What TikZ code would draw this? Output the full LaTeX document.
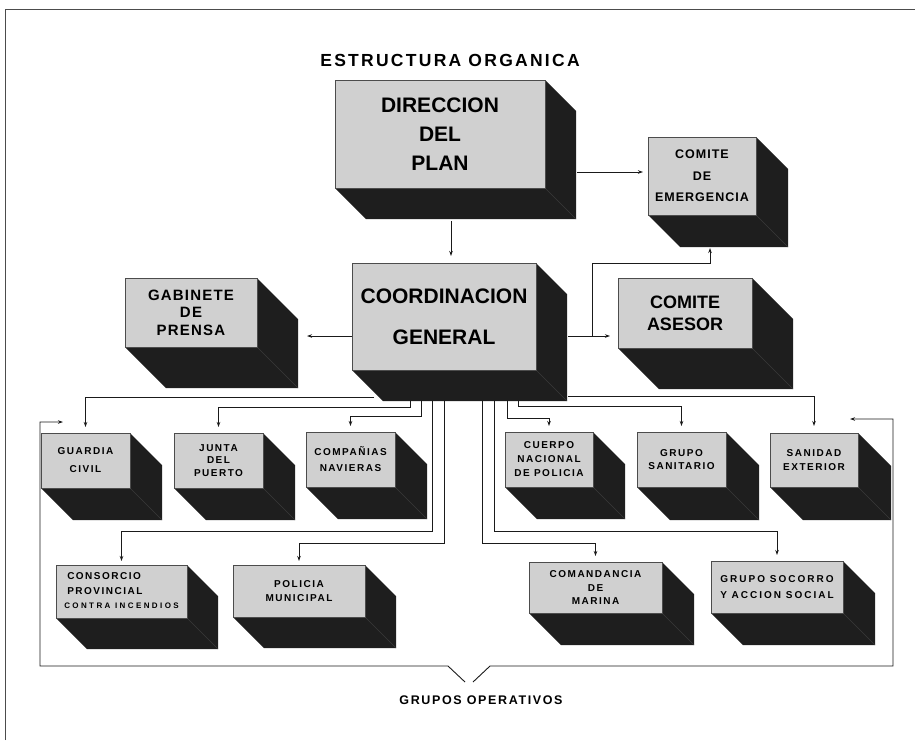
\documentclass[tikz,border=0pt]{standalone}
\usepackage{fontspec}
\setmainfont{Liberation Sans}
\newfontfamily\fntP{Liberation Sans}
\newfontfamily\fntS{Liberation Sans}[LetterSpace=15]
\newfontfamily\fntW{Liberation Sans}[LetterSpace=30]
\newfontfamily\fntM{Liberation Sans}[LetterSpace=8]
\newfontfamily\fntT{Liberation Sans}[LetterSpace=13]
\newfontfamily\fntR{Liberation Sans}[LetterSpace=20]
\usetikzlibrary{arrows.meta,calc}
\definecolor{facegray}{HTML}{D0D0D0}
\definecolor{shadowc}{HTML}{1E1E1E}
\definecolor{linec}{HTML}{1A1A1A}
\tikzset{
  front/.style={fill=facegray, draw=gray!60!black, line width=0.5pt, inner sep=0pt, outer sep=0pt, align=center, text=black},
  darkside/.style={fill=shadowc},
  edgeline/.style={draw=gray!45!black, line width=0.5pt},
  conn/.style={draw=linec, line width=0.9pt, -{Stealth[length=5pt,width=3.5pt]}},
  frameline/.style={draw=gray!60!black, line width=1pt},
  lbl/.style={inner sep=0pt, text=black},
}
\newcommand\cubebox[8]{%
  \fill[darkside] (#4,#3) -- (#4+#6,#3+#6) -- (#4+#6,#5+#6) -- (#2+#6,#5+#6) -- (#2,#5) -- (#4,#5) -- cycle;
  \draw[edgeline] (#4,#5) -- (#4+#6,#5+#6);
  \pgfmathsetmacro\cbw{#4-#2}\pgfmathsetmacro\cbh{#5-#3}
  \node[front, minimum width=\cbw pt, minimum height=\cbh pt, anchor=north west, font={#7}] (#1) at (#2,#3) {#8};
}
\begin{document}
\begin{tikzpicture}[x=1pt,y=-1pt]
\useasboundingbox (0,0) rectangle (915,740);
% frame
\draw[frameline] (5,740) -- (5,9) -- (915,9);
% title
\node[lbl, font={\fntT\bfseries\fontsize{17.5}{20}\selectfont}] (title) at (450,60) {ESTRUCTURA ORGANICA};
% boxes
\cubebox{dir}{335}{80}{545}{188}{31}{\fntP\bfseries\fontsize{21}{29}\selectfont}{DIRECCION\\DEL\\PLAN}
\cubebox{emerg}{648}{137}{756}{215}{32}{\fntM\bfseries\fontsize{12.5}{21.5}\selectfont}{COMITE\\DE\\EMERGENCIA}
\cubebox{coord}{352}{263}{536}{370}{31}{\fntP\bfseries\fontsize{21}{41}\selectfont}{COORDINACION\\GENERAL}
\cubebox{gab}{125}{278}{257}{347}{41}{\fntM\bfseries\fontsize{15}{17.5}\selectfont}{GABINETE\\DE\\PRENSA}
\cubebox{ases}{618}{278}{752}{348}{41}{\fntP\bfseries\fontsize{18}{22}\selectfont}{COMITE\\ASESOR}
\cubebox{guardia}{41}{433}{130}{488}{32}{\fntS\bfseries\fontsize{10}{18}\selectfont}{GUARDIA\\CIVIL}
\cubebox{junta}{174}{433}{263}{488}{32}{\fntS\bfseries\fontsize{10}{12.5}\selectfont}{JUNTA\\DEL\\PUERTO}
\cubebox{comp}{306}{432}{395}{487}{32}{\fntS\bfseries\fontsize{10}{16}\selectfont}{COMPAÑIAS\\NAVIERAS}
\cubebox{cuerpo}{505}{432}{593}{487}{32}{\fntS\bfseries\fontsize{10}{14}\selectfont}{CUERPO\\NACIONAL\\DE POLICIA}
\cubebox{sanit}{637}{432}{726}{487}{33}{\fntS\bfseries\fontsize{10}{13.5}\selectfont}{GRUPO\\SANITARIO}
\cubebox{sanid}{770}{433}{858}{487}{33}{\fntS\bfseries\fontsize{10}{14}\selectfont}{SANIDAD\\EXTERIOR}
\cubebox{cons}{56}{565}{187}{618}{31}{\fntS\bfseries\fontsize{10}{14.5}\selectfont}{\begin{tabular}{@{}l@{}}\hspace*{3pt}CONSORCIO\\\hspace*{3pt}PROVINCIAL\\{\fntW\fontsize{8}{10}\selectfont CONTRA INCENDIOS}\end{tabular}}
\cubebox{pol}{233}{565}{365}{617}{31}{\fntS\bfseries\fontsize{10}{14}\selectfont}{POLICIA\\MUNICIPAL}
\cubebox{coman}{529}{562}{662}{613}{32}{\fntS\bfseries\fontsize{10}{13.5}\selectfont}{COMANDANCIA\\DE\\MARINA}
\cubebox{soc}{711}{561}{843}{613}{32}{\fntR\bfseries\fontsize{10}{16}\selectfont}{GRUPO SOCORRO\\Y ACCION SOCIAL}
% connector anchor points
\coordinate (dirB) at (451,221);
\coordinate (dirR) at (577,172);
\coordinate (gabR) at (299,336);
\coordinate (cgR) at (568,336);
\coordinate (cgE) at (592,336);
\coordinate (emK) at (710,263);
\coordinate (emB) at (710,248);
\coordinate (cgL) at (374,397);
\coordinate (cgb1) at (410,400);
\coordinate (cgb2) at (421,400);
\coordinate (cgb3) at (432,400);
\coordinate (cgb4) at (444,400);
\coordinate (cgb5) at (482,400);
\coordinate (cgb6) at (494,400);
\coordinate (cgb7) at (507,400);
\coordinate (cgb8) at (518,400);
\coordinate (cgRb) at (568,396);
% upper connectors
\draw[conn, shorten >=7pt] (dirB) -- (dirB |- coord.north);
\draw[conn, shorten >=5pt] (dirR) -- (dirR -| emerg.west);
\draw[conn, shorten >=8pt] (coord.west |- gabR) -- (gabR);
\draw[conn, shorten >=8pt] (cgR) -- (cgR -| ases.west);
\draw[conn] (cgE) |- (emK) -- (emB);
% lower connectors
\draw[conn, shorten >=6pt] (cgL) -| (guardia.north);
\draw[conn, shorten >=6pt] (cgb1) -- ++(0,7) -| (junta.north);
\draw[conn, shorten >=6pt] (cgb2) -- ++(0,16) -| (comp.north);
\draw[conn, shorten >=4pt] (cgb3) -- ++(0,131) -| (cons.north);
\draw[conn, shorten >=4pt] (cgb4) -- ++(0,143) -| (pol.north);
\draw[conn, shorten >=6pt] (cgb5) -- ++(0,143) -| (coman.north);
\draw[conn, shorten >=6pt] (cgb6) -- ++(0,131) -| (soc.north);
\draw[conn, shorten >=6pt] (cgb7) -- ++(0,18) -| (cuerpo.north);
\draw[conn, shorten >=6pt] (cgb8) -- ++(0,6) -| (sanit.north);
\draw[conn, shorten >=7pt] (cgRb) -| (sanid.north);
% grupos operativos bracket
\coordinate (brL) at (465,682);
\coordinate (brR) at (473,682);
\coordinate (bkL1) at (448,666);
\coordinate (bkL2) at (40,666);
\coordinate (bkL3) at (40,422);
\coordinate (bkLt) at (63,422);
\coordinate (bkR1) at (490,666);
\coordinate (bkR2) at (893,666);
\coordinate (bkR3) at (893,419);
\coordinate (bkRt) at (850,419);
\draw[conn] (brL) -- (bkL1) -- (bkL2) -- (bkL3) -- (bkLt);
\draw[conn] (brR) -- (bkR1) -- (bkR2) -- (bkR3) -- (bkRt);
\node[lbl, font={\fntT\bfseries\fontsize{12.5}{15}\selectfont}] (gops) at (481,700) {GRUPOS OPERATIVOS};
\end{tikzpicture}
\end{document}
